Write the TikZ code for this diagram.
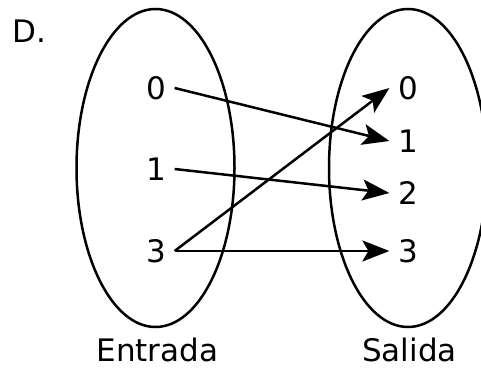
\documentclass[tikz,border=0pt]{standalone}
\usepackage{fontspec}
\setmainfont{DejaVu Sans}
\usetikzlibrary{arrows.meta}

\begin{document}
\begin{tikzpicture}[x=1pt, y=-1pt, line width=2.5pt,
  font=\fontsize{31}{36}\selectfont,
  elem/.style={inner sep=7.5pt},
  maparrow/.style={-{Stealth[length=27pt, width=21pt, inset=6pt]}}]
\newdimen\rx
\newdimen\ry
\rx=79pt
\ry=159pt

\useasboundingbox (0,0) rectangle (481,369);

\draw (155.5,168) ellipse [x radius=\rx, y radius=\ry]; % Entrada
\draw (408,168) ellipse [x radius=\rx, y radius=\ry]; % Salida

\node (lbl) at (29,31) {D.};

% dominio
\node[elem] (in0) at (156,88) {0};
\node[elem] (in1) at (156,169) {1};
\node[elem] (in3) at (156,251) {3};

% codominio
\node[elem] (out0) at (408,88) {0};
\node[elem] (out1) at (408,141) {1};
\node[elem] (out2) at (408,193) {2};
\node[elem] (out3) at (408,251) {3};

\node (entrada) at (157.5,350) {Entrada};
\node (salida) at (409.5,350) {Salida};

\draw[maparrow] (in0.east) -- (out1.west);
\draw[maparrow] (in1.east) -- (out2.west);
\draw[maparrow] (in3.east) -- (out0.west);
\draw[maparrow] (in3.east) -- (out3.west);
\end{tikzpicture}
\end{document}
